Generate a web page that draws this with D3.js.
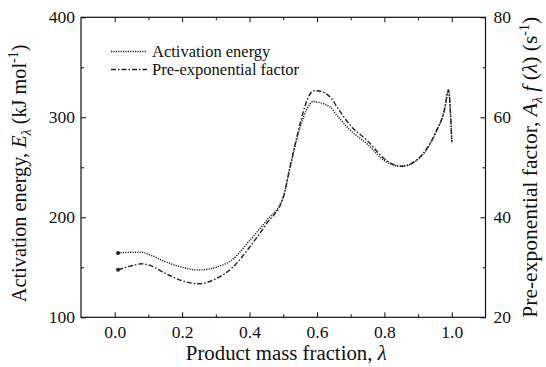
<!DOCTYPE html>
<html>
<head>
<meta charset="utf-8">
<script src="https://cdn.jsdelivr.net/npm/d3@7"></script>
<style>
  body { margin: 0; background: #fff; }
  svg text { font-family: "Liberation Serif", "Times New Roman", "DejaVu Serif", serif !important; fill: #111; }
</style>
</head>
<body>
<svg id="chart"></svg>
<script>
// values
const lambdaE = [0.01, 0.05, 0.08, 0.1, 0.15, 0.2, 0.25, 0.3, 0.35, 0.4, 0.45, 0.5, 0.52, 0.55, 0.57, 0.59, 0.6, 0.64, 0.66, 0.7, 0.75, 0.8, 0.85, 0.9, 0.95, 0.98, 0.99, 1.0];
const energy  = [164.3, 165, 165, 163, 155.7, 150, 147.3, 150, 158, 176.7, 196.7, 220, 250, 290, 308, 316, 315.3, 310, 301.7, 286.7, 273, 256.7, 251, 258, 283, 310, 326.7, 276.7];
const lambdaA = [0.01, 0.05, 0.08, 0.1, 0.15, 0.2, 0.25, 0.3, 0.35, 0.4, 0.45, 0.5, 0.52, 0.55, 0.57, 0.59, 0.6, 0.64, 0.66, 0.7, 0.75, 0.8, 0.85, 0.9, 0.95, 0.98, 0.99, 1.0];
const preExp  = [29.5, 30.3, 30.7, 30.5, 28.8, 27.3, 26.7, 27.7, 30, 34, 38.7, 44, 50, 58.7, 63.3, 65.3, 65.3, 64, 62, 58.3, 55.3, 51.7, 50.2, 51.7, 56.7, 62, 65.5, 55];
const xTicks = [0, 0.2, 0.4, 0.6, 0.8, 1.0];
const xMinor = [0.1, 0.3, 0.5, 0.7, 0.9];
const yLeftTicks = [100, 200, 300, 400];
const yLeftMinor = [150, 250, 350];
const yRightTicks = [20, 40, 60, 80];
const yRightMinor = [30, 50, 70];
const legendNames = ["Activation energy", "Pre-exponential factor"];

const width = 546, height = 367;
const margin = { top: 17.3, right: 60.5, bottom: 49.7, left: 81 };
const serif = '"Liberation Serif", "Times New Roman", "DejaVu Serif", serif';

const svg = d3.select("#chart").attr("width", width).attr("height", height)
              .attr("font-family", serif);

const x = d3.scaleLinear().domain([-0.1, 1.1]).range([margin.left, width - margin.right]);
const yL = d3.scaleLinear().domain([100, 400]).range([height - margin.bottom, margin.top]);
const yR = d3.scaleLinear().domain([20, 80]).range([height - margin.bottom, margin.top]);

const major = 5, minor = 3;

function styleAxis(g) {
    g.attr("font-family", serif);
    g.select(".domain").remove();
    g.selectAll("line").attr("stroke", "#111").attr("stroke-width", 1);
    g.selectAll("text").style("font-size", "17.5px").style("font-family", serif).attr("fill", "#111");
}

// bottom
svg.append("g").attr("transform", `translate(0,${yL.range()[0]})`)
   .call(d3.axisBottom(x).tickValues(xTicks).tickFormat(d3.format(".1f")).tickSize(-major).tickPadding(8))
   .call(styleAxis);
svg.append("g").attr("transform", `translate(0,${yL.range()[0]})`)
   .call(d3.axisBottom(x).tickValues(xMinor).tickFormat("").tickSize(-minor))
   .call(styleAxis);
// top
svg.append("g").attr("transform", `translate(0,${margin.top})`)
   .call(d3.axisTop(x).tickValues(xTicks).tickFormat("").tickSize(-major))
   .call(styleAxis);
svg.append("g").attr("transform", `translate(0,${margin.top})`)
   .call(d3.axisTop(x).tickValues(xMinor).tickFormat("").tickSize(-minor))
   .call(styleAxis);
// left
svg.append("g").attr("transform", `translate(${margin.left},0)`)
   .call(d3.axisLeft(yL).tickValues(yLeftTicks).tickSize(-major).tickPadding(6))
   .call(styleAxis);
svg.append("g").attr("transform", `translate(${margin.left},0)`)
   .call(d3.axisLeft(yL).tickValues(yLeftMinor).tickFormat("").tickSize(-minor))
   .call(styleAxis);
// right
svg.append("g").attr("transform", `translate(${width - margin.right},0)`)
   .call(d3.axisRight(yR).tickValues(yRightTicks).tickSize(-major).tickPadding(8))
   .call(styleAxis);
svg.append("g").attr("transform", `translate(${width - margin.right},0)`)
   .call(d3.axisRight(yR).tickValues(yRightMinor).tickFormat("").tickSize(-minor))
   .call(styleAxis);

// frame
svg.append("rect")
   .attr("x", margin.left).attr("y", margin.top)
   .attr("width", width - margin.left - margin.right)
   .attr("height", height - margin.top - margin.bottom)
   .attr("fill", "none").attr("stroke", "#111").attr("stroke-width", 1.2);

// curves
const lineE = d3.line().x((d, i) => x(lambdaE[i])).y(d => yL(d)).curve(d3.curveMonotoneX);
const lineA = d3.line().x((d, i) => x(lambdaA[i])).y(d => yR(d)).curve(d3.curveMonotoneX);

svg.append("path").datum(energy).attr("d", lineE)
   .attr("fill", "none").attr("stroke", "#222").attr("stroke-width", 1.4)
   .attr("stroke-dasharray", "1.2,1.2");
svg.append("path").datum(preExp).attr("d", lineA)
   .attr("fill", "none").attr("stroke", "#222").attr("stroke-width", 1.4)
   .attr("stroke-dasharray", "5,2,1.5,2");

svg.append("circle").attr("cx", x(lambdaE[0])).attr("cy", yL(energy[0])).attr("r", 2).attr("fill", "#222");
svg.append("circle").attr("cx", x(lambdaA[0])).attr("cy", yR(preExp[0])).attr("r", 2).attr("fill", "#222");

// legend
const dashes = ["1.2,1.2", "5,2,1.5,2"];
legendNames.forEach((name, i) => {
    const ly = 51.5 + i * 18;
    svg.append("line").attr("x1", 111).attr("x2", 147).attr("y1", ly).attr("y2", ly)
       .attr("stroke", "#222").attr("stroke-width", 1.4).attr("stroke-dasharray", dashes[i]);
    svg.append("text").attr("x", 152).attr("y", ly + 5).style("font-size", "16.5px").text(name);
});

// x title
const xt = svg.append("text").attr("x", (margin.left + width - margin.right) / 2 + 3).attr("y", 360)
   .attr("text-anchor", "middle").style("font-size", "20.8px");
xt.append("tspan").text("Product mass fraction, ");
xt.append("tspan").style("font-style", "italic").text("λ");

// left y title
const ylt = svg.append("text").attr("transform", `translate(26,${(margin.top + height - margin.bottom) / 2 + 6}) rotate(-90)`)
   .attr("text-anchor", "middle").style("font-size", "20.3px");
ylt.append("tspan").text("Activation energy, ");
ylt.append("tspan").style("font-style", "italic").text("E");
ylt.append("tspan").attr("dy", 5).style("font-size", "14px").style("font-style", "italic").text("λ");
ylt.append("tspan").attr("dy", -5).text(" (kJ mol");
ylt.append("tspan").attr("dy", -8).style("font-size", "14px").text("-1");
ylt.append("tspan").attr("dy", 8).text(")");

// right y title
const yrt = svg.append("text").attr("transform", `translate(537,${(margin.top + height - margin.bottom) / 2}) rotate(-90)`)
   .attr("text-anchor", "middle").style("font-size", "21.5px");
yrt.append("tspan").text("Pre-exponential factor, ");
yrt.append("tspan").style("font-style", "italic").text("A");
yrt.append("tspan").attr("dy", 5).style("font-size", "14px").style("font-style", "italic").text("λ");
yrt.append("tspan").attr("dy", -5).style("font-style", "italic").text(" f");
yrt.append("tspan").text(" (");
yrt.append("tspan").style("font-style", "italic").text("λ");
yrt.append("tspan").text(") (s");
yrt.append("tspan").attr("dy", -8).style("font-size", "14px").text("-1");
yrt.append("tspan").attr("dy", 8).text(")");
</script>
</body>
</html>
